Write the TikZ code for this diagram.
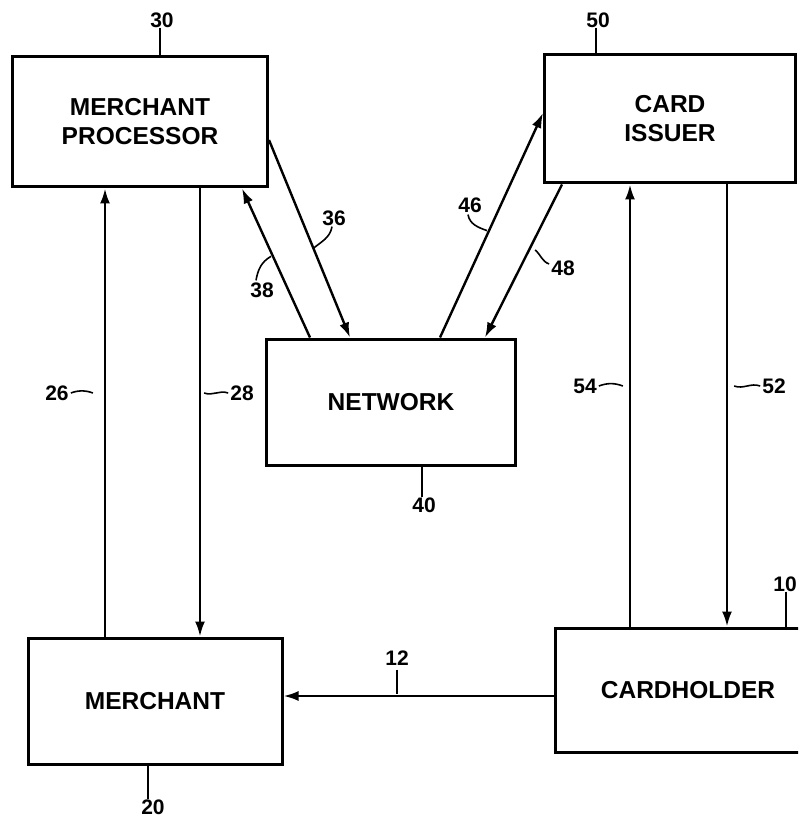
\documentclass[tikz,border=0pt]{standalone}
\usepackage{fontspec}
\setmainfont{Liberation Sans}
\usetikzlibrary{arrows.meta}
\begin{document}
\begin{tikzpicture}[x=1pt,y=-1pt,
    box/.style={draw,line width=3pt,inner sep=0pt,align=center,
      font=\fontsize{24.5}{29}\selectfont\bfseries},
    num/.style={inner sep=0pt,font=\fontsize{21}{24}\selectfont\bfseries},
    flow/.style={line width=2.4pt,-{Latex[length=15pt,width=10pt]}},
    lead/.style={line width=1.6pt}]
  \clip (0,0) rectangle (798,818);
  \draw
    (140,122) node[box,minimum width=255pt,minimum height=130pt] (30){MERCHANT\\PROCESSOR}
    (670,119) node[box,minimum width=251pt,minimum height=128pt] (50){CARD\\ISSUER}
    (391,402) node[box,minimum width=249pt,minimum height=126pt] (40){NETWORK}
    (155,701) node[box,minimum width=254pt,minimum height=126pt] (20){MERCHANT}
    (688,690) node[box,minimum width=266pt,minimum height=124pt] (10){CARDHOLDER};
  % reference numerals
  \draw
    (162,20) node[num] (l30){30}
    (598,20) node[num] (l50){50}
    (424,505) node[num] (l40){40}
    (153,807) node[num] (l20){20}
    (797,584) node[num,anchor=east] (l10){10}
    (397,658) node[num] (l12){12}
    (57,393) node[num] (l26){26}
    (242,393) node[num] (l28){28}
    (585,386) node[num] (l54){54}
    (774,386) node[num] (l52){52}
    (334,218) node[num] (l36){36}
    (262,290) node[num] (l38){38}
    (470,205) node[num] (l46){46}
    (563,268) node[num] (l48){48};
  \begin{scope}[flow]
    \draw (20.north -| 105,0) to (30.south -| 105,0);
    \draw (30.south -| 200,0) to (20.north -| 200,0);
    \draw (10.north -| 630,0) to (50.south -| 630,0);
    \draw (50.south -| 727,0) to (10.north -| 727,0);
    \draw (10.west |- 0,696) to (20.east |- 0,696);
    \draw (30.east |- 0,140) to (40.north -| 350,0);
    \draw (40.north -| 310,0) to (30.south -| 242,0);
    \draw (40.north -| 440,0) to (50.west |- 0,113);
    \draw (50.south -| 562,0) to (40.north -| 485,0);
  \end{scope}
  \begin{scope}[lead]
    \draw (l30.south -| 160,0) to (30.north -| 160,0);
    \draw (l50.south -| 596,0) to (50.north -| 596,0);
    \draw (l40.north -| 422,0) to (40.south -| 422,0);
    \draw (l20.north -| 148,0) to (20.south -| 148,0);
    \draw (l10.south -| 786,0) to (10.north -| 786,0);
    \draw (l12.south) ++(0,4) to ++(0,24);
    \draw (l26.east) ++(2,0) to[out=20,in=160] ++(22,0);
    \draw (l28.west) ++(-2,0) to[out=160,in=-20] ++(-24,0);
    \draw (l54.east) ++(2,0) to[out=20,in=160] ++(24,0);
    \draw (l52.west) ++(-2,0) to[out=160,in=-20] ++(-26,0);
    \draw (l36.south) ++(-2,1) to[out=-100,in=40] ++(-19,22);
    \draw (l38.north) ++(-6,-2) to[out=80,in=-150] ++(15,-24);
    \draw (l46.south) ++(-2,2) to[out=-80,in=160] ++(19,16);
    \draw (l48.west) ++(-2,-4) to[out=160,in=-40] ++(-14,-14);
  \end{scope}
\end{tikzpicture}
\end{document}
